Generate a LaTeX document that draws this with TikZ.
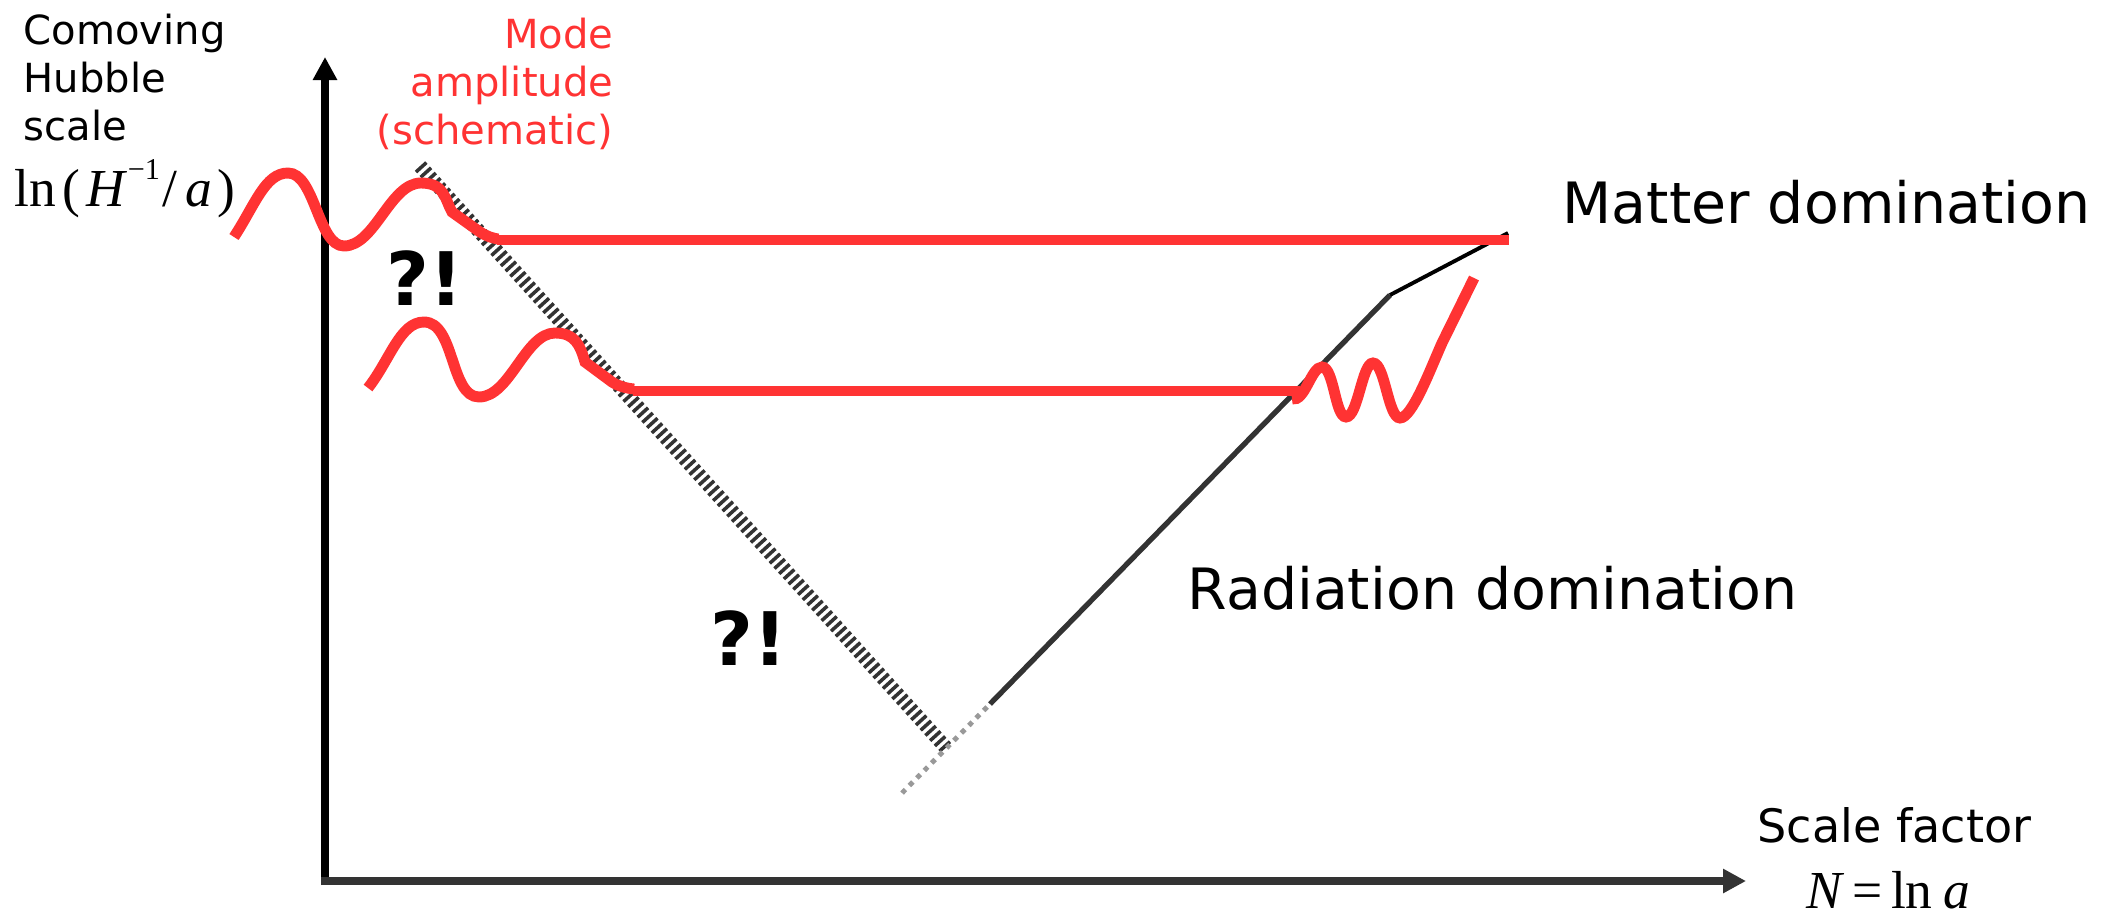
\documentclass[tikz,border=0pt]{standalone}
\usepackage{fontspec}
\setmainfont{DejaVu Sans}
\newfontfamily\eqfont{Liberation Serif}
\usetikzlibrary{arrows.meta}

\definecolor{modered}{RGB}{255,51,51}
\definecolor{axisgray}{RGB}{51,51,51}
\definecolor{dotgray}{RGB}{153,153,153}

\begin{document}
\begin{tikzpicture}[
  x=0.01cm, y=-0.01cm,
  yaxis/.style={line width=2.5pt, -{Triangle[length=0.23cm, width=0.23cm]}},
  xaxis/.style={line width=2.5pt, axisgray, -{Triangle[length=0.23cm, width=0.23cm]}},
  horizon/.style={line width=4pt, axisgray, dash pattern=on 1pt off 1pt},
  radline/.style={line width=1.5pt, axisgray},
  matline/.style={line width=1.1pt, black},
  extrap/.style={line width=1.4pt, dotgray, dash pattern=on 1.4pt off 1.6pt},
  wave/.style={line width=3.1pt, modered},
  txt/.style={inner sep=0pt, font=\fontsize{11.4pt}{13.7pt}\selectfont},
  era/.style={inner sep=0pt, font=\fontsize{16.2pt}{19pt}\selectfont},
  eq/.style={inner sep=0pt, font=\fontsize{15.2pt}{18pt}\eqfont},
  huh/.style={inner sep=0pt, font=\fontsize{21pt}{24pt}\selectfont\bfseries}
]
  \useasboundingbox (0,0) rectangle (2107,915);

  % axes
  \draw[yaxis] (325,885) -- (325,57);
  \draw[xaxis] (321,881) -- (1746,881);

  % comoving Hubble radius
  \draw[horizon] (420,166) -- (948,750);
  \draw[extrap] (902,793) -- (992,702);
  \draw[radline] (990,704) -- (1390,295);
  \draw[matline] (1390,295) -- (1508,233);

  % modes
  \draw[wave] (234,237) .. controls (255,205) and (265,173) .. (288,173)
    .. controls (315,173) and (318,246) .. (344,246)
    .. controls (375,246) and (390,183) .. (421,183)
    .. controls (445,183) and (445,200) .. (452,212)
    -- (480,232) .. controls (486,236) and (492,238) .. (498,239);
  \draw[wave] (497,240) -- (1509,240);

  \draw[wave] (368,388) .. controls (390,360) and (400,322) .. (424,322)
    .. controls (455,322) and (450,397) .. (479,397)
    .. controls (510,397) and (525,333) .. (555,333)
    .. controls (575,333) and (580,345) .. (585,362)
    -- (612,382) .. controls (618,386) and (625,388) .. (634,389);
  \draw[wave] (633,391) -- (1300,391);
  \draw[wave] (1292,399) .. controls (1305,402) and (1311,367) .. (1322,367)
    .. controls (1334,367) and (1335,417) .. (1346,417)
    .. controls (1358,417) and (1362,363) .. (1373,363)
    .. controls (1385,363) and (1388,418) .. (1400,418)
    .. controls (1412,418) and (1430,370) .. (1442,343)
    -- (1474,278);

  % labels
  \node[txt, anchor=north west, align=left] (hubble) at (23,13)
    {Comoving\\Hubble\\scale};
  \node[eq, anchor=base west] (lnlabel) at (14,206)
    {ln\hspace{0.12em}(\hspace{0.12em}\textit{H}\raisebox{0.5em}{\fontsize{8.6pt}{9pt}\selectfont −1}\hspace{0.05em}/\hspace{0.15em}\textit{a}\hspace{0.1em})};
  \node[txt, modered, anchor=north east, align=right] (mode) at (614,17)
    {Mode\\amplitude\\(schematic)};
  \node[huh, anchor=base west] (huhtop) at (386,305) {?!};
  \node[huh, anchor=base west] (huhlow) at (710,665) {?!};
  \node[era, anchor=base west] (matter) at (1562,223) {Matter domination};
  \node[era, anchor=base west] (radiation) at (1187,609) {Radiation domination};
  \node[inner sep=0pt, font=\fontsize{13.1pt}{15pt}\selectfont, anchor=base west] (scalefac) at (1757,842) {Scale factor};
  \node[eq, anchor=base west] (nlabel) at (1806,908)
    {\textit{N}\hspace{0.15em}=\hspace{0.15em}ln\hspace{0.2em}\textit{a}};
\end{tikzpicture}
\end{document}
